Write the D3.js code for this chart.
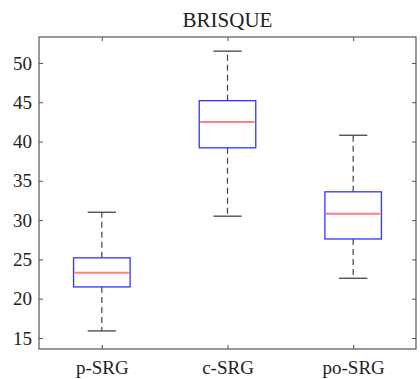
<!DOCTYPE html>
<html>
<head>
<meta charset="utf-8">
<script src="https://cdn.jsdelivr.net/npm/d3@7"></script>
<style>
  body { margin: 0; background: #fff; }
  svg { display: block; }
  text { font-family: 'Liberation Serif', 'Times New Roman', serif; fill: #222; }
</style>
</head>
<body>
<svg></svg>
<script>
const groups = ['p-SRG', 'c-SRG', 'po-SRG'];
const whiskerLow = [15.9, 30.5, 22.6];
const q1 = [21.5, 39.2, 27.6];
const median = [23.3, 42.5, 30.8];
const q3 = [25.2, 45.2, 33.6];
const whiskerHigh = [31.0, 51.5, 40.8];
const yTicks = [15, 20, 25, 30, 35, 40, 45, 50];

const width = 420;
const height = 379;
const plotLeft = 39, plotRight = 416, plotTop = 37, plotBottom = 349;

const svg = d3.select('svg').attr('width', width).attr('height', height);

const x = d3.scaleLinear().domain([0.5, 3.5]).range([plotLeft, plotRight]);
const y = d3.scaleLinear().domain([13.6, 53.3]).range([plotBottom, plotTop]);

const axisColor = '#555';
const step = x(2) - x(1);
const boxW = step * 0.45;
const capW = boxW / 2;

// title
svg.append('text')
    .attr('x', (plotLeft + plotRight) / 2)
    .attr('y', 27)
    .attr('text-anchor', 'middle')
    .attr('font-size', 21)
    .text('BRISQUE');

const data = groups.map((g, i) => ({
  name: g, pos: i + 1,
  lo: whiskerLow[i], q1: q1[i], med: median[i], q3: q3[i], hi: whiskerHigh[i]
}));

const box = svg.append('g').selectAll('g').data(data).enter().append('g');

// whiskers
box.append('line')
    .attr('x1', d => x(d.pos)).attr('x2', d => x(d.pos))
    .attr('y1', d => y(d.q3)).attr('y2', d => y(d.hi))
    .attr('stroke', '#444').attr('stroke-width', 1.2).attr('stroke-dasharray', '6,4');
box.append('line')
    .attr('x1', d => x(d.pos)).attr('x2', d => x(d.pos))
    .attr('y1', d => y(d.q1)).attr('y2', d => y(d.lo))
    .attr('stroke', '#444').attr('stroke-width', 1.2).attr('stroke-dasharray', '6,4');
// caps
['hi', 'lo'].forEach(k => {
  box.append('line')
      .attr('x1', d => x(d.pos) - capW / 2).attr('x2', d => x(d.pos) + capW / 2)
      .attr('y1', d => y(d[k])).attr('y2', d => y(d[k]))
      .attr('stroke', '#444').attr('stroke-width', 1.3);
});
// box
box.append('rect')
    .attr('x', d => x(d.pos) - boxW / 2)
    .attr('width', boxW)
    .attr('y', d => y(d.q3))
    .attr('height', d => y(d.q1) - y(d.q3))
    .attr('fill', 'none')
    .attr('stroke', '#3333ff')
    .attr('stroke-width', 1.3);
// median
box.append('line')
    .attr('x1', d => x(d.pos) - boxW / 2 + 1).attr('x2', d => x(d.pos) + boxW / 2 - 1)
    .attr('y1', d => y(d.med)).attr('y2', d => y(d.med))
    .attr('stroke', '#ff8080').attr('stroke-width', 2);

// frame
svg.append('rect')
    .attr('x', plotLeft).attr('y', plotTop)
    .attr('width', plotRight - plotLeft).attr('height', plotBottom - plotTop)
    .attr('fill', 'none').attr('stroke', axisColor).attr('stroke-width', 1.2);

// axes
const tickLen = 4;
const yl = svg.append('g').attr('transform', `translate(${plotLeft},0)`)
    .call(d3.axisLeft(y).tickValues(yTicks).tickSize(-tickLen).tickPadding(7));
const yr = svg.append('g').attr('transform', `translate(${plotRight},0)`)
    .call(d3.axisRight(y).tickValues(yTicks).tickSize(-tickLen).tickFormat(''));
const xb = svg.append('g').attr('transform', `translate(0,${plotBottom})`)
    .call(d3.axisBottom(x).tickValues([1, 2, 3]).tickSize(-tickLen).tickPadding(12)
      .tickFormat(d => groups[d - 1]));
const xt = svg.append('g').attr('transform', `translate(0,${plotTop})`)
    .call(d3.axisTop(x).tickValues([1, 2, 3]).tickSize(-tickLen).tickFormat(''));

[yl, yr, xb, xt].forEach(a => {
  a.select('.domain').remove();
  a.selectAll('line').attr('stroke', axisColor);
  a.selectAll('text').attr('font-size', 19)
      .attr('font-family', "'Liberation Serif', serif").attr('fill', '#222');
});
</script>
</body>
</html>
